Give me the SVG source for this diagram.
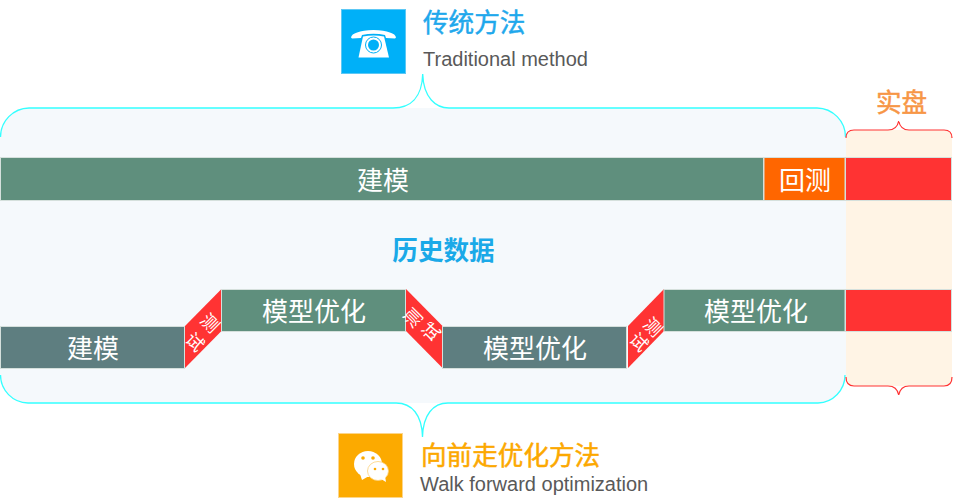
<svg xmlns="http://www.w3.org/2000/svg" width="953" height="500" viewBox="0 0 953 500">
<style>
text{font-family:"Liberation Sans","Noto Sans CJK SC",sans-serif}
.bar{stroke:#d5e0dc;stroke-width:1}
.g{fill:#5f8f7d}
.s{fill:#5e7e80}
.r{fill:#ff3333}
.w{fill:#fff;font-size:26px;text-anchor:middle}
.sm{fill:#fff;font-size:18px;text-anchor:middle}
.h{font-size:25.600px;stroke-width:.5px}
.en{font-size:20px;fill:#595959}
.cy{fill:none;stroke:#33ffff;stroke-width:1.300}
.rb{fill:none;stroke:#ff3333;stroke-width:1.200}
</style>
<rect width="953" height="500" fill="#fff"/>
<g id="background">
<path d="M0 137A29 29 0 0 1 29 108H817A29 29 0 0 1 846 137V375A28 28 0 0 1 818 403H28A28 28 0 0 1 0 375Z" fill="#f5f9fc"/>
<path d="M846 138Q846 130 854 130H944Q952 130 952 138V378Q952 386 944 386H854Q846 386 846 378Z" fill="#fff4e5"/>
</g>
<g id="connectors">
<path class="cy" d="M0.500 137A29 29 0 0 1 29 108H393C410 108 422 98 422.700 74C423.500 98 436 108 449 108H817A29 29 0 0 1 845.500 137"/>
<path class="cy" d="M0.500 375A28 28 0 0 0 28 403H396C412 403 422 415 422.500 437C423 415 433 403 448 403H818A28 28 0 0 0 845 375"/>
<path class="rb" d="M846 138Q846 130 854 130H888Q897 130 898.700 121Q900.500 130 909 130H944Q952 130 952 138"/>
<path class="rb" d="M846 377Q846 386 854 386H888Q897 386 898.700 395Q900.500 386 909 386H944Q952 386 952 377"/>
</g>
<g id="node-top-jianmo"><rect class="bar g" x="0.500" y="157.500" width="763" height="43"/><text class="w" x="383" y="190">建模</text></g>
<g id="node-top-huice"><rect class="bar" fill="#ff6600" x="764" y="157.500" width="81" height="43"/><text class="w" x="805" y="190">回测</text></g>
<g id="node-top-live"><rect class="bar r" x="845.500" y="157.500" width="106" height="43"/></g>
<g id="node-history"><text x="443.500" y="260" font-size="25.600" font-weight="bold" fill="#1aa9e8" text-anchor="middle">历史数据</text></g>
<g id="node-low-jianmo"><rect class="bar s" x="0.500" y="326.500" width="184" height="42"/><text class="w" x="93" y="358">建模</text></g>
<g id="node-test-1"><path class="r" d="M185 326L221.500 289V331L185 368Z"/><text class="sm" transform="translate(210 323) rotate(45)" y="6.500">测</text><text class="sm" transform="translate(195 342) rotate(45)" y="6.500">试</text></g>
<g id="node-opt-1"><rect class="bar g" x="221.500" y="289.500" width="184" height="42"/><text class="w" x="314" y="321">模型优化</text></g>
<g id="node-eval"><path class="r" d="M406 289L442.500 326V368L406 331Z"/><text class="sm" transform="translate(413 318) rotate(-45)" y="6.500">测</text><text class="sm" transform="translate(431 332) rotate(-45)" y="6.500">试</text></g>
<g id="node-opt-2"><rect class="bar s" x="442.500" y="326.500" width="184" height="42"/><text class="w" x="535" y="358">模型优化</text></g>
<g id="node-test-2"><path class="r" d="M628 326L664 289V331L628 368Z"/><text class="sm" transform="translate(653 327) rotate(45)" y="6.500">测</text><text class="sm" transform="translate(639 342) rotate(45)" y="6.500">试</text></g>
<g id="node-opt-3"><rect class="bar g" x="664" y="289.500" width="181" height="42"/><text class="w" x="756" y="321">模型优化</text></g>
<g id="node-low-live"><rect class="bar r" x="845.500" y="289.500" width="106" height="42"/></g>
<g id="node-live-label"><text class="h" x="901.500" y="112" fill="#f79646" stroke="#f79646" text-anchor="middle">实盘</text></g>
<g id="node-traditional">
<rect x="341.500" y="9.500" width="64" height="64" fill="#00b0f8" stroke="#5cc8f5"/>
<path fill="#fff" d="M351 37.500Q352 31 373.500 30Q395 31 396 37.500L395 38.500L386 38L385 35Q373.500 32.500 362 35L361 38L352 38.500Z"/>
<path fill="#fff" d="M363 36.500Q373.500 34.500 384 36.500L389 57.500H358.500Z"/>
<circle cx="373.500" cy="45" r="8" fill="none" stroke="#00b0f8"/>
<circle cx="373.500" cy="45" r="5.500" fill="#00b0f8"/>
<text class="h" x="423" y="32" fill="#1fa8ec" stroke="#1fa8ec">传统方法</text>
<text class="en" x="423" y="66">Traditional method</text>
</g>
<g id="node-walkforward">
<rect x="338.500" y="433.500" width="64" height="64" fill="#fcaa00" stroke="#fcd58a"/>
<ellipse cx="368" cy="464" rx="14" ry="13" fill="#fff"/>
<path fill="#fff" d="M360 474L362 480L369 476Z"/>
<ellipse cx="378" cy="471" rx="10.500" ry="9.500" fill="#fff" stroke="#fdd27a" stroke-width=".8"/>
<path fill="#fff" d="M381 479L386 482L385 476Z"/>
<g fill="#fcaa00"><circle cx="363" cy="458" r="1.800"/><circle cx="373" cy="458" r="1.800"/><circle cx="375" cy="469" r="1.300"/><circle cx="383" cy="469" r="1.300"/></g>
<text class="h" x="421" y="465" fill="#fca800" stroke="#fca800">向前走优化方法</text>
<text class="en" x="420" y="491">Walk forward optimization</text>
</g>
</svg>
